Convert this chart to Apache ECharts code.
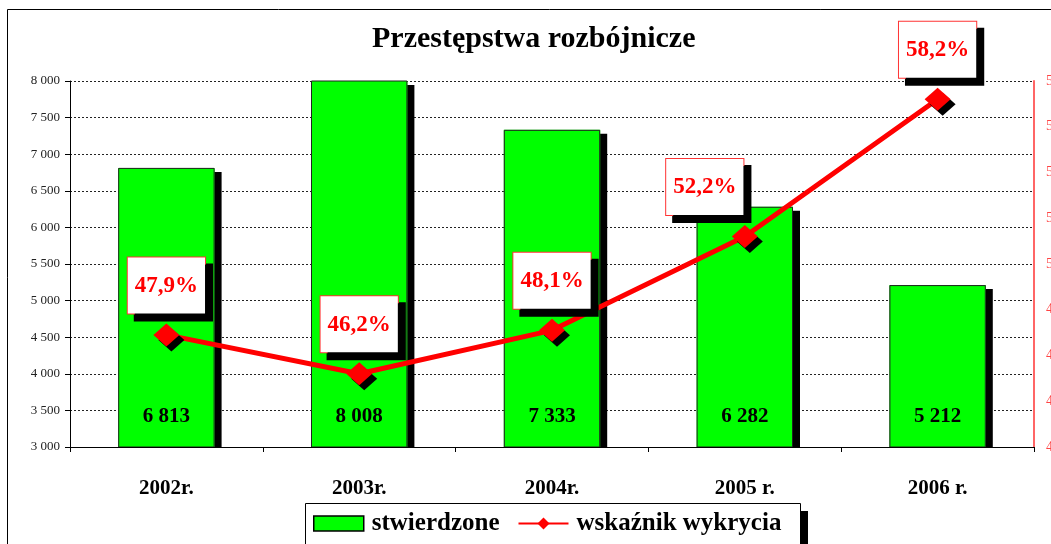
<!DOCTYPE html>
<html>
<head>
<meta charset="utf-8">
<script src="https://cdn.jsdelivr.net/npm/echarts@6/dist/echarts.min.js"></script>
<style>
  html, body { margin: 0; padding: 0; background: #fff; overflow: hidden; }
  #chart { width: 1090px; height: 544px; }
</style>
</head>
<body>
<div id="chart"></div>
<script>
var years = ['2002r.', '2003r.', '2004r.', '2005 r.', '2006 r.'];
var stwierdzone = [6813, 8008, 7333, 6282, 5212];
var wykrycie = [47.9, 46.2, 48.1, 52.2, 58.2];
var serif = '"Liberation Serif", "DejaVu Serif", serif';

function thousands(v) {
  return String(v).replace(/\B(?=(\d{3})+(?!\d))/g, ' ');
}

var chart = echarts.init(document.getElementById('chart'));

var lineData = wykrycie.map(function (v, i) {
  var d = { value: v };
  if (i === 3) d.label = { offset: [-40, 0] };
  return d;
});

chart.setOption({
  backgroundColor: '#fff',
  animation: false,
  graphic: [{
    type: 'rect',
    shape: { x: 7.5, y: 9.5, width: 1100, height: 600 },
    style: { fill: 'none', stroke: '#000', lineWidth: 1 },
    z: -1
  }, {
    // hide bar shadows below the category axis
    type: 'rect',
    shape: { x: 71, y: 448, width: 963, height: 6 },
    style: { fill: '#fff' },
    z: 5
  }, {
    // legend frame + shadow
    type: 'rect',
    shape: { x: 313, y: 511, width: 495, height: 60 },
    style: { fill: '#000' },
    z: 10
  }, {
    type: 'rect',
    shape: { x: 305.5, y: 503.5, width: 495, height: 60 },
    style: { fill: '#fff', stroke: '#000', lineWidth: 1 },
    z: 10
  }],
  title: {
    text: 'Przestępstwa rozbójnicze',
    left: 367,
    top: 19,
    textStyle: { fontFamily: serif, fontSize: 30, fontWeight: 'bold', color: '#000' }
  },
  legend: {
    left: 313,
    top: 511,
    padding: 0,
    itemGap: 18,
    itemWidth: 50,
    itemHeight: 15,
    z: 20,
    textStyle: { fontFamily: serif, fontSize: 25, fontWeight: 'bold', color: '#000', padding: [0, 0, 0, 3] },
    data: [
      { name: 'stwierdzone', icon: 'rect', itemStyle: { color: '#00ff00', borderColor: '#000', borderWidth: 1.5 } },
      { name: 'wskaźnik wykrycia' }
    ]
  },
  grid: { left: 70, right: 56, top: 81, bottom: 97 },
  xAxis: {
    type: 'category',
    data: years,
    z: 10,
    axisLine: { lineStyle: { color: '#000', width: 1 } },
    axisTick: { show: true, length: 5, lineStyle: { color: '#000' } },
    axisLabel: { margin: 31, fontFamily: serif, fontSize: 21, fontWeight: 'bold', color: '#000' }
  },
  yAxis: [{
    type: 'value',
    min: 3000,
    max: 8000,
    interval: 500,
    axisLine: { show: true, lineStyle: { color: '#000', width: 1 } },
    axisTick: { show: true, length: 5, lineStyle: { color: '#000' } },
    axisLabel: {
      margin: 10, fontFamily: serif, fontSize: 13, color: '#222',
      formatter: function (v) { return thousands(v); }
    },
    splitLine: { show: true, lineStyle: { color: '#222', type: [2, 2], width: 1 } }
  }, {
    type: 'value',
    min: 43,
    max: 59,
    interval: 2,
    position: 'right',
    axisLine: { show: true, lineStyle: { color: '#ff6666', width: 2 } },
    axisTick: { show: false },
    axisLabel: { margin: 12, fontFamily: serif, fontSize: 14, color: '#ff4444',
      formatter: function (v) { return v + ',0%'; } },
    splitLine: { show: false }
  }],
  series: [{
    // black drop shadow behind the bars
    name: 'cien',
    type: 'bar',
    data: stwierdzone,
    barWidth: '50%',
    silent: true,
    itemStyle: {
      color: '#00ff00',
      shadowColor: '#000',
      shadowOffsetX: 7,
      shadowOffsetY: 4,
      shadowBlur: 0
    },
    z: 2
  }, {
    name: 'stwierdzone',
    type: 'bar',
    data: stwierdzone,
    barWidth: '50%',
    barGap: '-100%',
    itemStyle: {
      color: '#00ff00',
      borderColor: '#222',
      borderWidth: 1
    },
    label: {
      show: true,
      position: 'insideBottom',
      distance: 20,
      fontFamily: serif,
      fontSize: 21,
      fontWeight: 'bold',
      color: '#000',
      formatter: function (p) { return thousands(p.value); }
    },
    z: 3
  }, {
    name: 'wskaźnik wykrycia',
    type: 'line',
    yAxisIndex: 1,
    data: lineData,
    symbol: 'diamond',
    symbolSize: [26, 23],
    lineStyle: { color: '#ff0000', width: 5 },
    itemStyle: {
      color: '#ff0000',
      shadowColor: '#000',
      shadowOffsetX: 5,
      shadowOffsetY: 5,
      shadowBlur: 0
    },
    label: {
      show: true,
      position: 'top',
      distance: 10,
      fontFamily: serif,
      fontSize: 23,
      fontWeight: 'bold',
      color: '#ff0000',
      backgroundColor: '#fff',
      borderColor: '#ff3333',
      borderWidth: 1,
      padding: [17, 7, 16, 7],
      shadowColor: '#000',
      shadowOffsetX: 7,
      shadowOffsetY: 7,
      shadowBlur: 0,
      formatter: function (p) { return String(p.value).replace('.', ',') + '%'; }
    },
    z: 4
  }]
});
</script>
</body>
</html>
